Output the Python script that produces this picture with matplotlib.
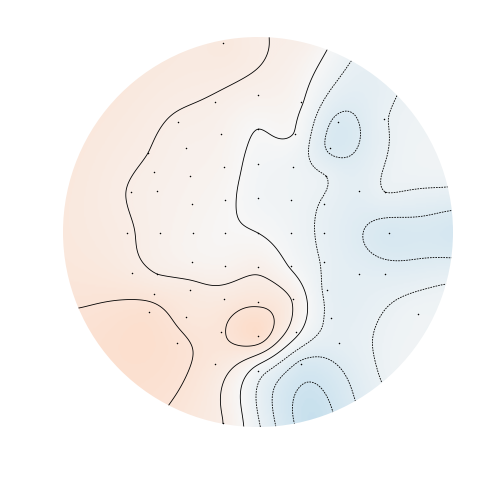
import numpy as np
import matplotlib
matplotlib.use('Agg')
import matplotlib.pyplot as plt
from matplotlib.patches import Circle

# sensor positions, pixels from head centre (x right, y up), head radius 195
sens_x = [-35,
          -43, 0, 43,
          -80, 80, 126,
          -37, 0, 37,
          -110, -72, 72,
          -34, 0, 35, 68,
          -104, -68,
          -127, -101, 101, 127,
          -66, -33, 0, 33, 66,
          -131, -98, -65, -33, 0, 33, 66, 131,
          -66, -33, 0, 33, 66,
          -126, -101, 101, 127,
          -68, 69,
          -104, -34, 0, 35,
          -109, 73, 160,
          -72, -37, 0, 38,
          -81, 81,
          -43, 0, 43,
          -35]
sens_y = [189,
          130, 137, 130,
          110, 110, 113,
          98, 103, 98,
          79, 84, 84,
          65, 68, 65, 56,
          60, 56,
          40, 41, 41, 40,
          28, 32, 34, 32, 28,
          -1, -1, -1, -1, -1, -1, -1, -1,
          -30, -34, -35, -34, -30,
          -41, -42, -42, -42,
          -58, -58,
          -62, -67, -70, -67,
          -80, -86, -82,
          -85, -100, -104, -100,
          -111, -111,
          -132, -139, -132,
          -191]
sens_val = [1.5,
            0.9, 0.65, 0.1,
            0.9, -2.25, -1.1,
            0.6, 0.0, -0.05,
            1.0, 0.7, -2.2,
            0.4, -0.3, -0.6, -1.0,
            0.85, 0.6,
            0.95, 0.75, -1.5, -1.0,
            0.5, 0.2, -0.4, -0.6, -1.1,
            1.1, 0.7, 0.4, 0.15, 0.0, -0.5, -1.2, -2.45,
            0.5, 0.5, 0.8, -0.1, -1.1,
            1.3, 1.0, -1.5, -1.6,
            1.3, -1.2,
            1.7, 1.4, 1.8, 0.9,
            2.3, -1.25, -0.6,
            1.7, 1.9, 2.6, 0.3,
            2.2, -1.4,
            1.6, -0.5, -2.25,
            1.0]

# values, clockwise from the top (degrees)
rim_angle = [0, 15, 30, 45, 60, 75, 90, 105, 120, 135, 150, 165,
             180, 195, 210, 225, 240, 255, 270, 285, 300, 315, 330, 345]
rim_val = [1.05, 0.7, -1.1, -1.0, -0.6, -0.8, -2.6, -1.0, -0.6, -0.6, -1.95, -3.4,
           -0.8, 1.3, 2.1, 2.4, 2.2, 1.8, 1.6, 1.6, 1.6, 1.6, 1.5, 1.4]

levels = [-3, -2, -1, 0, 1, 2]
head_r = 195


def tps(px, py, pv, gx, gy):
    def kern(r):
        with np.errstate(divide='ignore', invalid='ignore'):
            k = r ** 2 * np.log(r)
        return np.nan_to_num(k)
    n = len(px)
    d = np.hypot(px[:, None] - px[None, :], py[:, None] - py[None, :])
    A = np.zeros((n + 3, n + 3))
    A[:n, :n] = kern(d) + 1e-4 * np.eye(n)
    P = np.column_stack([np.ones(n), px, py])
    A[:n, n:] = P
    A[n:, :n] = P.T
    b = np.concatenate([pv, np.zeros(3)])
    sol = np.linalg.solve(A, b)
    w, a = sol[:n], sol[n:]
    dg = np.hypot(gx.ravel()[:, None] - px[None, :], gy.ravel()[:, None] - py[None, :])
    out = kern(dg) @ w + a[0] + a[1] * gx.ravel() + a[2] * gy.ravel()
    return out.reshape(gx.shape)


th = np.deg2rad(rim_angle)
all_x = np.concatenate([np.array(sens_x, float), 200 * np.sin(th)]) / head_r
all_y = np.concatenate([np.array(sens_y, float), 200 * np.cos(th)]) / head_r
all_v = np.concatenate([sens_val, rim_val])

g = np.linspace(-1.0, 1.0, 260)
gx, gy = np.meshgrid(g, g)
zz = tps(all_x, all_y, all_v, gx, gy)

fig = plt.figure(figsize=(5.04, 5.04), dpi=100)
ax = fig.add_axes([0, 0, 1, 1])
ax.set_xlim(-258, 246)
ax.set_ylim(-272, 232)
ax.set_aspect('equal')
ax.axis('off')

ext = [-head_r, head_r, -head_r, head_r]
im = ax.imshow(zz, origin='lower', extent=ext, cmap='RdBu_r', vmin=-15, vmax=15,
               interpolation='bilinear')
clip = Circle((0, 0), head_r, transform=ax.transData)
im.set_clip_path(clip)

styles = ['solid' if lv >= 0 else (0, (2.0, 1.2)) for lv in levels]
cs = ax.contour(gx * head_r, gy * head_r, zz, levels=levels, colors='k',
                linewidths=0.6, linestyles=styles)
cs.set_clip_path(Circle((0, 0), head_r, transform=ax.transData))

ax.scatter(sens_x, sens_y, s=1.2, c='k', linewidths=0, zorder=3)

fig.savefig('out.png', dpi=100)
